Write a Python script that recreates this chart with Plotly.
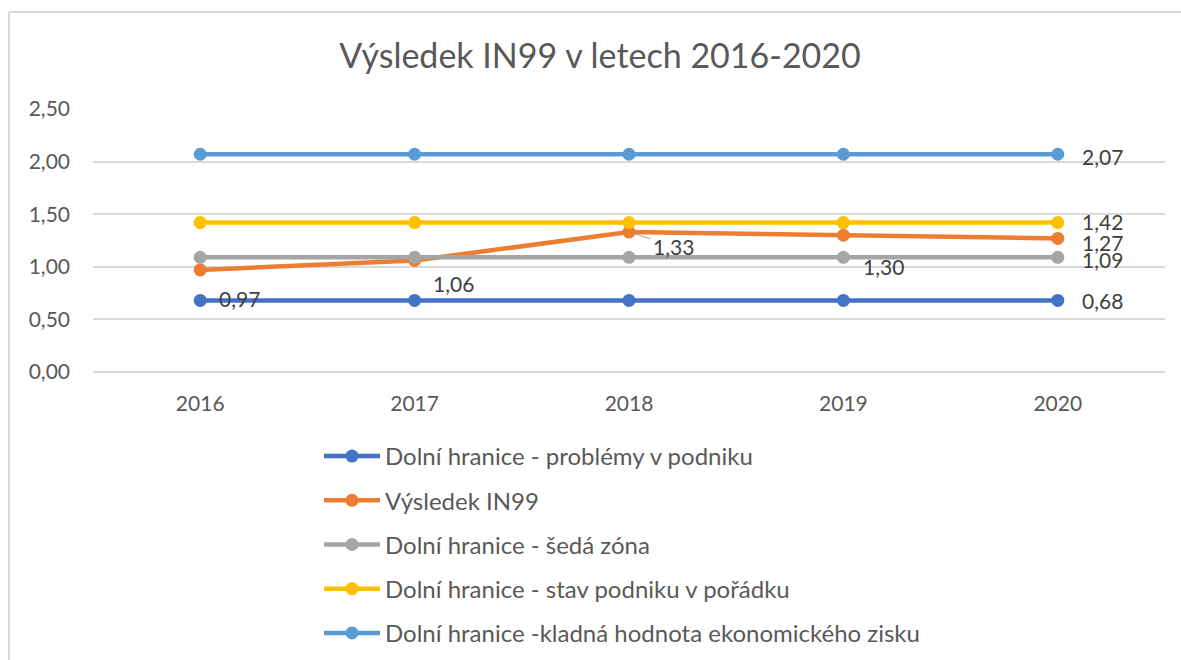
import plotly.graph_objects as go

years = ["2016", "2017", "2018", "2019", "2020"]
problemy = [0.68, 0.68, 0.68, 0.68, 0.68]
vysledek = [0.97, 1.06, 1.33, 1.30, 1.27]
seda = [1.09, 1.09, 1.09, 1.09, 1.09]
poradek = [1.42, 1.42, 1.42, 1.42, 1.42]
zisk = [2.07, 2.07, 2.07, 2.07, 2.07]

names = [
    "Dolní hranice - problémy v podniku",
    "Výsledek IN99",
    "Dolní hranice - šedá zóna",
    "Dolní hranice - stav podniku v pořádku",
    "Dolní hranice -kladná hodnota ekonomického zisku",
]
series = [problemy, vysledek, seda, poradek, zisk]
colors = ["#4472C4", "#ED7D31", "#A5A5A5", "#FFC000", "#5B9BD5"]

FONT = "Lato"
TXT = "#595959"
LBL = "#404040"

fig = go.Figure()
for i, (nm, vals, col) in enumerate(zip(names, series, colors)):
    fig.add_trace(go.Scatter(
        x=years, y=vals, name=nm, mode="lines+markers",
        line=dict(color=col, width=4.5),
        marker=dict(color=col, size=13),
        legendgroup=f"g{i}",
    ))

def fmt(v):
    return f"{v:.2f}".replace(".", ",")

annotations = []
last = len(years) - 1
# labels at last point for constant series
for vals, dy in zip([problemy, seda, poradek, zisk], [0, -2, 1, -2]):
    annotations.append(dict(
        x=last, y=vals[-1], xref="x", yref="y", text=fmt(vals[-1]),
        showarrow=False, xanchor="left", yanchor="middle", xshift=22, yshift=dy,
        font=dict(family=FONT, size=21, color=LBL)))

# labels for IN99 result
offsets = [(17, -29), (16, -23), None, (18, -31), (22, -4)]
for i, (v, off) in enumerate(zip(vysledek, offsets)):
    if off is None:
        annotations.append(dict(
            x=i, y=v, xref="x", yref="y", text=fmt(v), showarrow=True,
            arrowhead=0, arrowwidth=1, arrowcolor="#A6A6A6", ax=44, ay=14,
            standoff=5, font=dict(family=FONT, size=21, color=LBL)))
    else:
        annotations.append(dict(
            x=i, y=v, xref="x", yref="y", text=fmt(v), showarrow=False,
            xanchor="left", yanchor="middle", xshift=off[0], yshift=off[1],
            font=dict(family=FONT, size=21, color=LBL)))

L, R, T, B = 93, 16, 109, 288
W, H = 1181, 660
pw, ph = W - L - R, H - T - B

def px2x(px):
    return (px - L) / pw

def px2y(py):
    return (H - B - py) / ph

border_col = "#D9D9D9"
shapes = [
    dict(type="line", xref="paper", yref="paper",
         x0=px2x(9), x1=px2x(9), y0=px2y(12), y1=px2y(700),
         line=dict(color=border_col, width=2)),
    dict(type="line", xref="paper", yref="paper",
         x0=px2x(9), x1=px2x(1200), y0=px2y(12), y1=px2y(12),
         line=dict(color=border_col, width=2)),
]

fig.update_layout(
    width=W, height=H,
    margin=dict(l=L, r=R, t=T, b=B, autoexpand=False),
    paper_bgcolor="white", plot_bgcolor="white",
    separators=", ",
    font=dict(family=FONT, color=TXT, size=18),
    title=dict(text="Výsledek IN99 v letech 2016-2020",
               x=px2x(600), xref="paper", xanchor="center",
               y=1 - 56 / H, yanchor="middle",
               font=dict(family=FONT, size=34, color=TXT)),
    xaxis=dict(type="category", range=[-0.5, 4.5], showgrid=False,
               showline=False, zeroline=False, ticks="",
               ticklabelstandoff=17,
               tickfont=dict(family=FONT, size=21, color=TXT)),
    yaxis=dict(range=[0, 2.5], dtick=0.5, tickformat=".2f",
               showgrid=True, gridcolor=border_col, gridwidth=1.5,
               zeroline=True, zerolinecolor=border_col, zerolinewidth=1.5,
               showline=False, ticks="", ticklabelstandoff=22,
               tickfont=dict(family=FONT, size=21, color=TXT)),
    legend=dict(orientation="v", traceorder="grouped", tracegroupgap=10,
                itemwidth=56,
                x=px2x(319), xanchor="left", y=px2y(434), yanchor="top",
                font=dict(family=FONT, size=24, color=TXT),
                bgcolor="rgba(0,0,0,0)"),
    annotations=annotations,
    shapes=shapes,
)

fig.write_html("out.html", config={"displayModeBar": False},
               post_script="document.body.style.margin='0';")
